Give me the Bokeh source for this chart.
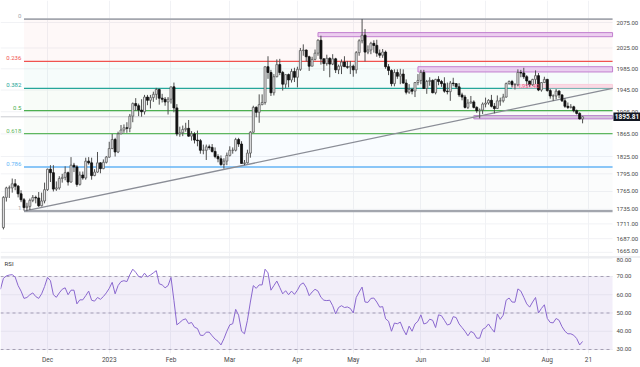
import numpy as np
import pandas as pd
from bokeh.plotting import figure
from bokeh.layouts import column
from bokeh.models import (ColumnDataSource, FixedTicker, Range1d, Label, Span, BoxAnnotation)
from bokeh.core.properties import value
from bokeh.embed import file_html
from bokeh.resources import INLINE

# ---------------- data ----------------
start_date = "2022-11-10"
end_date = "2023-08-17"
closed_days = ["2022-12-26", "2023-01-02", "2023-04-07"]

opens = [1705, 1755, 1771, 1771, 1778, 1774, 1761, 1751, 1738, 1740, 1750, 1755, 1754, 1741, 1749,
         1768, 1803, 1797, 1769, 1771, 1787, 1789, 1797, 1781, 1810, 1807, 1777, 1793, 1788, 1817,
         1814, 1792, 1798, 1814, 1804, 1815, 1824, 1839, 1855, 1833, 1865, 1872, 1876, 1875, 1897,
         1920, 1916, 1908, 1905, 1932, 1926, 1931, 1937, 1946, 1930, 1928, 1923, 1928, 1951, 1912,
         1865, 1867, 1873, 1875, 1861, 1865, 1854, 1853, 1836, 1836, 1842, 1841, 1834, 1825, 1821,
         1811, 1817, 1827, 1836, 1836, 1855, 1847, 1813, 1814, 1831, 1868, 1913, 1904, 1918, 1922,
         1989, 1978, 1940, 1970, 1993, 1978, 1956, 1974, 1964, 1980, 1969, 1984, 2020, 2021, 2008,
         1990, 2003, 2015, 2040, 2004, 1995, 2005, 1994, 2004, 1983, 1990, 1998, 1989, 1988, 1990,
         1983, 2016, 2039, 2050, 2017, 2021, 2034, 2030, 2015, 2011, 2017, 1989, 1982, 1957, 1978,
         1971, 1975, 1958, 1941, 1946, 1943, 1959, 1963, 1978, 1948, 1961, 1963, 1940, 1965, 1961,
         1957, 1943, 1942, 1958, 1957, 1951, 1936, 1932, 1913, 1921, 1923, 1913, 1907, 1908, 1919,
         1921, 1926, 1915, 1911, 1925, 1925, 1932, 1957, 1961, 1955, 1955, 1978, 1977, 1970, 1962,
         1955, 1965, 1972, 1945, 1959, 1965, 1944, 1934, 1934, 1943, 1936, 1925, 1915, 1913, 1914,
         1907, 1902, 1892]
highs = [1757, 1773, 1775, 1787, 1786, 1776, 1767, 1754, 1746, 1753, 1759, 1758, 1764, 1763, 1780,
         1804, 1810, 1810, 1782, 1791, 1795, 1808, 1799, 1824, 1814, 1810, 1799, 1799, 1823, 1824,
         1823, 1803, 1833, 1815, 1820, 1826, 1851, 1865, 1858, 1869, 1881, 1882, 1886, 1901, 1922,
         1930, 1920, 1928, 1936, 1936, 1936, 1942, 1949, 1948, 1938, 1932, 1932, 1951, 1959, 1919,
         1878, 1880, 1885, 1890, 1870, 1868, 1871, 1856, 1846, 1846, 1846, 1847, 1841, 1829, 1827,
         1822, 1832, 1843, 1841, 1858, 1858, 1852, 1819, 1837, 1870, 1916, 1915, 1937, 1937, 1989,
         2009, 1983, 1975, 2003, 2004, 1981, 1974, 1976, 1985, 1987, 1989, 2025, 2032, 2022, 2010,
         2008, 2022, 2042, 2049, 2005, 2012, 2007, 2013, 2006, 1993, 2003, 2009, 2000, 2000, 1993,
         2019, 2042, 2082, 2062, 2030, 2037, 2040, 2041, 2022, 2023, 2020, 1994, 1984, 1984, 1984,
         1985, 1984, 1965, 1956, 1949, 1960, 1975, 1983, 1983, 1964, 1969, 1965, 1966, 1971, 1964,
         1969, 1959, 1962, 1968, 1958, 1958, 1940, 1936, 1928, 1934, 1926, 1915, 1911, 1922, 1931,
         1928, 1936, 1921, 1935, 1931, 1938, 1959, 1963, 1964, 1958, 1984, 1983, 1987, 1973, 1962,
         1966, 1982, 1977, 1960, 1970, 1966, 1947, 1937, 1947, 1945, 1937, 1930, 1922, 1919, 1916,
         1909, 1904, 1897]
lows = [1702, 1748, 1754, 1763, 1767, 1755, 1747, 1733, 1732, 1734, 1747, 1745, 1739, 1740, 1745,
        1766, 1781, 1765, 1766, 1768, 1780, 1784, 1775, 1780, 1798, 1773, 1775, 1785, 1785, 1811,
        1785, 1791, 1797, 1796, 1803, 1813, 1823, 1838, 1825, 1831, 1865, 1867, 1867, 1868, 1886,
        1907, 1897, 1896, 1900, 1917, 1911, 1923, 1927, 1918, 1922, 1916, 1900, 1920, 1904, 1861,
        1860, 1861, 1869, 1860, 1853, 1848, 1843, 1830, 1829, 1819, 1837, 1832, 1822, 1815, 1809,
        1804, 1810, 1825, 1830, 1834, 1842, 1813, 1810, 1813, 1823, 1867, 1895, 1885, 1917, 1918,
        1966, 1934, 1935, 1969, 1973, 1944, 1949, 1950, 1959, 1960, 1950, 1981, 2010, 1999, 1981,
        1990, 2001, 2010, 1993, 1981, 1991, 1969, 1992, 1977, 1975, 1975, 1989, 1985, 1975, 1970,
        1976, 2010, 2034, 1999, 2013, 2013, 2016, 2008, 2006, 2006, 1985, 1973, 1952, 1952, 1966,
        1956, 1957, 1937, 1938, 1937, 1932, 1954, 1956, 1947, 1938, 1953, 1939, 1937, 1954, 1951,
        1940, 1937, 1925, 1952, 1947, 1932, 1926, 1911, 1910, 1920, 1911, 1903, 1893, 1901, 1913,
        1918, 1913, 1902, 1910, 1916, 1922, 1931, 1955, 1950, 1946, 1952, 1969, 1966, 1952, 1951,
        1953, 1956, 1943, 1942, 1958, 1942, 1929, 1925, 1928, 1930, 1923, 1912, 1910, 1911, 1904,
        1900, 1891, 1884]
closes = [1755, 1771, 1771, 1778, 1774, 1761, 1751, 1738, 1740, 1750, 1755, 1754, 1741, 1749, 1768,
          1803, 1797, 1769, 1771, 1787, 1789, 1797, 1781, 1810, 1807, 1777, 1793, 1788, 1817, 1814,
          1792, 1798, 1814, 1804, 1815, 1824, 1839, 1855, 1833, 1865, 1872, 1876, 1875, 1897, 1920,
          1916, 1908, 1905, 1932, 1926, 1931, 1937, 1946, 1930, 1928, 1923, 1928, 1951, 1912, 1865,
          1867, 1873, 1875, 1861, 1865, 1854, 1853, 1836, 1836, 1842, 1841, 1834, 1825, 1821, 1811,
          1817, 1827, 1836, 1836, 1855, 1847, 1813, 1814, 1831, 1868, 1913, 1904, 1918, 1922, 1989,
          1978, 1940, 1970, 1993, 1978, 1956, 1974, 1964, 1980, 1969, 1984, 2020, 2021, 2008, 1990,
          2003, 2015, 2040, 2004, 1995, 2005, 1994, 2004, 1983, 1990, 1998, 1989, 1988, 1990, 1983,
          2016, 2039, 2050, 2017, 2021, 2034, 2030, 2015, 2011, 2017, 1989, 1982, 1957, 1978, 1971,
          1975, 1958, 1941, 1946, 1943, 1959, 1963, 1978, 1948, 1961, 1963, 1940, 1965, 1961, 1957,
          1943, 1942, 1958, 1957, 1951, 1936, 1932, 1913, 1921, 1923, 1913, 1907, 1908, 1919, 1921,
          1926, 1915, 1911, 1925, 1925, 1932, 1957, 1961, 1955, 1955, 1978, 1977, 1970, 1962, 1955,
          1965, 1972, 1945, 1959, 1965, 1944, 1934, 1934, 1943, 1936, 1925, 1915, 1913, 1914, 1907,
          1902, 1892, 1895.81]

rsi_start_date = "2022-11-09"
rsi_values = [63, 69, 70.3, 70.8, 71, 69.7, 65, 62, 58, 58.5, 60, 61, 59, 58, 60.5, 64.5, 69.5, 67.7,
              60, 58.6, 61, 63, 63.8, 60, 62.5, 62.5, 55, 57.2, 57.2, 59.5, 62, 57, 56.5, 58.5, 57.5,
              59, 61, 63.5, 66.8, 60.5, 65, 67.2, 67.7, 67.2, 71, 74, 72.3, 70, 69.5, 71.8, 69.8,
              70.8, 72, 73.2, 66, 65.4, 63.8, 65, 69.5, 56.9, 43.5, 44.8, 46.2, 46.8, 44.2, 44.8,
              42.2, 41.5, 37.8, 37.7, 39.5, 39.5, 37.5, 35.7, 34.5, 32.5, 35.9, 40, 43.5, 44.1, 52,
              48.8, 40, 38.6, 46, 56, 65, 63.5, 65.4, 65.4, 74, 72, 62.5, 65, 67.5, 64, 60.5, 62.2,
              60, 62, 60.2, 62.5, 65.5, 66.5, 64, 59.5, 61.5, 63, 62, 58.6, 57, 56.8, 57, 54, 49.5,
              53, 54, 53, 53.3, 52.5, 50, 58.5, 61.5, 64.2, 56, 55.8, 58, 58.2, 56, 53.2, 53.5,
              46.8, 45.5, 40, 44.5, 44.1, 45, 41, 38, 42.8, 40, 44, 45.5, 49, 44, 44.5, 46.6, 46,
              42, 49, 48.5, 46, 43.4, 44, 48, 47.5, 44, 42, 40, 37.5, 39.9, 39, 36.2, 36.2, 41, 42,
              44, 41.5, 39.5, 49.5, 46.5, 48.8, 57, 58.2, 56, 55.9, 63.2, 62, 58.6, 55, 53.2, 56,
              58.5, 50, 52.5, 54.5, 47, 44.8, 44.6, 47, 46, 42.5, 40, 38.6, 38.6, 37.8, 36, 32.5,
              34.4]

tick_dates = ["2022-12-01", "2023-01-03", "2023-02-01", "2023-03-01", "2023-04-03",
              "2023-05-01", "2023-06-01", "2023-07-03", "2023-08-01", "2023-08-21"]
tick_labels = ["Dec", "2023", "Feb", "Mar", "Apr", "May", "Jun", "Jul", "Aug", "21"]

price_ticks = [1665, 1687, 1711, 1735, 1765, 1795, 1825, 1865, 1905, 1945, 1985, 2025, 2075]
rsi_ticks = [30, 40, 50, 60, 70, 80]
rsi_bands = [30, 50, 70]

fib_ratios = [0, 0.236, 0.382, 0.5, 0.618, 0.786, 1]
fib_labels = ["0", "0.236", "0.382", "0.5", "0.618", "0.786", "1"]
fib_colors = ["#a3a6ae", "#f0524f", "#26a69a", "#4caf50", "#5fb760", "#64b5f6", "#a3a6ae"]
fib_widths = [1.6, 1.2, 1.4, 1.2, 1.2, 1.6, 2.2]
fib_high = 2081.8
fib_low = 1732.0
fib_anchor_date = "2022-11-21"

trend_dates = ["2022-11-21", "2023-06-27"]
trend_prices = [1732.0, 1895.0]

zone_dates = ["2023-04-13", "2023-05-31", "2023-06-27", "2023-07-14"]
zone_tops = [2055.0, 1989.0, 1898.0, 1955.5]
zone_bottoms = [2047.0, 1979.0, 1892.0, 1949.0]
zone_fill = ["#e6c0ec", "#e6c0ec", "#d4a6e0", "#f9cfdc"]
zone_line = ["#c27fcf", "#c27fcf", "#b983cc", "#f9cfdc"]
ray_label = "1,951.40"
ray_label_date = "2023-07-18"
ray_price = 1952.0

last_price = 1895.81

# view: plotting area ends at X_PLOT_END, price scale occupies the rest up to X_FULL
X_START, X_PLOT_END, X_FULL = -0.99, 207.2, 216.7
SCALE_TEXT_X = 208.5
VIEW_PRICE = (1658.4, 2119.2)
VIEW_RSI = (27.8, 80.96)
W = 640
H_MAIN = 256
H_RSI = 97
TAG_HALF_PX = 4.3

FONT = "Roboto"
AX_COLOR = "#4a4a4a"
GRID = "#f1f2f5"

# ---------------- calendar ----------------
cal = pd.bdate_range(rsi_start_date, "2023-08-31")
cal = cal[~cal.isin(pd.to_datetime(closed_days))]
offset = cal.get_loc(pd.Timestamp(start_date))


def pos(d):
    return cal.get_loc(pd.Timestamp(d)) - offset


n = len(closes)
xs = np.arange(n)
tick_idx = [int(pos(d)) for d in tick_dates]
x_range = Range1d(X_START, X_FULL)

# ---------------- price figure ----------------
p1 = figure(frame_width=W, frame_height=H_MAIN, x_range=x_range,
            y_range=Range1d(*VIEW_PRICE), y_axis_type="log", x_axis_location=None,
            y_axis_location=None, output_backend="svg", toolbar_location=None,
            min_border_left=0, min_border_right=0, min_border_top=0, min_border_bottom=0,
            outline_line_color=None, background_fill_color="white")
p1.xgrid.ticker = FixedTicker(ticks=tick_idx, minor_ticks=[])
p1.xgrid.grid_line_color = GRID
p1.ygrid.grid_line_color = None

# horizontal grid at price-scale ticks (only over the plotting area)
p1.segment(x0=[X_START] * len(price_ticks), y0=price_ticks, x1=[X_PLOT_END] * len(price_ticks),
           y1=price_ticks, line_color=GRID, line_width=1)

# fib retracement
fib_x0 = pos(fib_anchor_date)
fib_levels = [fib_high - r * (fib_high - fib_low) for r in fib_ratios]
p1.quad(left=[fib_x0] * (len(fib_levels) - 1), right=[X_PLOT_END] * (len(fib_levels) - 1),
        top=fib_levels[:-1], bottom=fib_levels[1:], fill_color=fib_colors[1:],
        fill_alpha=0.04, line_color=None)
fib_src = ColumnDataSource(dict(x0=[fib_x0] * len(fib_levels), x1=[X_PLOT_END] * len(fib_levels),
                                y=fib_levels, c=fib_colors, w=fib_widths, t=fib_labels,
                                tx=[fib_x0 - 0.9] * len(fib_levels)))
p1.segment(x0="x0", y0="y", x1="x1", y1="y", line_color="c", line_width="w", source=fib_src)
p1.text(x="tx", y="y", text="t", text_color="c", text_align="right", text_baseline="bottom",
        text_font_size="6px", text_font=value(FONT), y_offset=-1, source=fib_src)

# zones
zsrc = ColumnDataSource(dict(l=[pos(d) for d in zone_dates], r=[X_PLOT_END] * len(zone_dates),
                             t=zone_tops, b=zone_bottoms, f=zone_fill, lc=zone_line))
p1.quad(left="l", right="r", top="t", bottom="b", fill_color="f", fill_alpha=0.75,
        line_color="lc", line_width=1, source=zsrc)

# current price line
p1.segment(x0=[X_START], y0=[last_price], x1=[X_PLOT_END], y1=[last_price],
           line_color="#c9cbd1", line_width=1)

# trend line (straight on screen: linear in log price)
tx0, tx1 = pos(trend_dates[0]), pos(trend_dates[1])
slope = (np.log(trend_prices[1]) - np.log(trend_prices[0])) / (tx1 - tx0)
t_end = float(np.exp(np.log(trend_prices[0]) + slope * (X_PLOT_END - tx0)))
p1.segment(x0=[tx0], y0=[trend_prices[0]], x1=[X_PLOT_END], y1=[t_end],
           line_color="#8a8d96", line_width=1.3)

# candles
o = np.array(opens, float)
c = np.array(closes, float)
h = np.array(highs, float)
lo = np.array(lows, float)
up = c >= o
csrc = ColumnDataSource(dict(x=xs, h=h, l=lo, top=np.maximum(o, c), bot=np.minimum(o, c),
                             fc=np.where(up, "#e8e8ea", "#111111"),
                             lc=np.where(up, "#5a5a5a", "#111111")))
p1.segment(x0="x", y0="h", x1="x", y1="l", line_color="#4f4f4f", line_width=1, source=csrc)
p1.vbar(x="x", width=0.68, top="top", bottom="bot", fill_color="fc", line_color="lc",
        line_width=0.8, source=csrc)

# ray price text
p1.text(x=[pos(ray_label_date)], y=[ray_price], text=[ray_label], text_color="#ef5b8c",
        text_font_size="5.5px", text_font=value(FONT), text_baseline="middle", text_align="left")

# price scale labels (lowest one nudged up so that it is not cut by the pane edge)
p1.text(x=[SCALE_TEXT_X] * (len(price_ticks) - 1), y=price_ticks[1:],
        text=[f"{t:.2f}" for t in price_ticks[1:]], text_color=AX_COLOR, text_font_size="6px",
        text_font=value(FONT), text_baseline="middle", text_align="left")
p1.text(x=[SCALE_TEXT_X], y=price_ticks[:1], text=[f"{price_ticks[0]:.2f}"],
        text_color=AX_COLOR, text_font_size="6px", text_font=value(FONT),
        text_baseline="middle", text_align="left", y_offset=-1.5)

# last-price tag on the price scale
ln_span = np.log(VIEW_PRICE[1] / VIEW_PRICE[0])
tag_k = float(np.exp(TAG_HALF_PX * ln_span / H_MAIN))
p1.quad(left=[X_PLOT_END + 0.3], right=[X_FULL], top=[last_price * tag_k],
        bottom=[last_price / tag_k], fill_color="#131722", line_color=None)
p1.text(x=[(X_PLOT_END + 0.3 + X_FULL) / 2], y=[last_price], text=[f"{last_price:.2f}"],
        text_color="white", text_font_size="6.5px", text_font=value(FONT),
        text_font_style="bold", text_baseline="middle", text_align="center")

# ---------------- RSI figure ----------------
p2 = figure(frame_width=W, frame_height=H_RSI, x_range=x_range, y_range=Range1d(*VIEW_RSI),
            y_axis_location=None, output_backend="svg", toolbar_location=None,
            min_border_left=0, min_border_right=0, min_border_top=0, min_border_bottom=0,
            outline_line_color=None, background_fill_color="white")
xt = FixedTicker(ticks=tick_idx, minor_ticks=[])
p2.xaxis.ticker = xt
p2.xgrid.ticker = xt
p2.xaxis.major_label_overrides = {i: lab for i, lab in zip(tick_idx, tick_labels)}
p2.xgrid.grid_line_color = GRID
p2.ygrid.grid_line_color = None
for ax in p2.xaxis:
    ax.axis_line_color = None
    ax.major_tick_line_color = None
    ax.minor_tick_line_color = None
    ax.major_tick_out = 0
    ax.major_tick_in = 0
    ax.major_label_text_font = FONT
    ax.major_label_text_color = AX_COLOR
    ax.major_label_text_font_size = "6.5px"
    ax.major_label_standoff = 2

p2.segment(x0=[X_START] * len(rsi_ticks), y0=rsi_ticks, x1=[X_PLOT_END] * len(rsi_ticks),
           y1=rsi_ticks, line_color=GRID, line_width=1)
p2.add_layout(BoxAnnotation(bottom=rsi_bands[0], top=rsi_bands[-1], left=X_START,
                            right=X_PLOT_END, fill_color="#7e57c2", fill_alpha=0.1,
                            line_color=None))
p2.segment(x0=[X_START] * len(rsi_bands), y0=rsi_bands, x1=[X_PLOT_END] * len(rsi_bands),
           y1=rsi_bands, line_color="#a8a4b4", line_width=1, line_dash="3 3")
p2.add_layout(Span(location=VIEW_RSI[1], dimension="width", line_color="#dcdee4", line_width=2))

rsi_x = np.arange(len(rsi_values)) + pos(rsi_start_date)
p2.line(x=rsi_x, y=rsi_values, line_color="#8c6ad0", line_width=1)
p2.add_layout(Label(x=X_START + 1.4, y=77.1, text="RSI", text_baseline="middle",
                    text_font=FONT, text_font_size="6px", text_color="#333333"))
# RSI scale labels (top one shifted into the pane so that it stays whole)
p2.text(x=[SCALE_TEXT_X] * (len(rsi_ticks) - 1), y=rsi_ticks[:-1],
        text=[f"{t:.2f}" for t in rsi_ticks[:-1]], text_color=AX_COLOR, text_font_size="6px",
        text_font=value(FONT), text_baseline="middle", text_align="left")
p2.text(x=[SCALE_TEXT_X], y=[VIEW_RSI[1]], text=[f"{rsi_ticks[-1]:.2f}"],
        text_color=AX_COLOR, text_font_size="6px", text_font=value(FONT),
        text_baseline="top", text_align="left", y_offset=1)

layout = column(p1, p2, spacing=0)
open("out.html", "w").write(file_html(layout, INLINE))
